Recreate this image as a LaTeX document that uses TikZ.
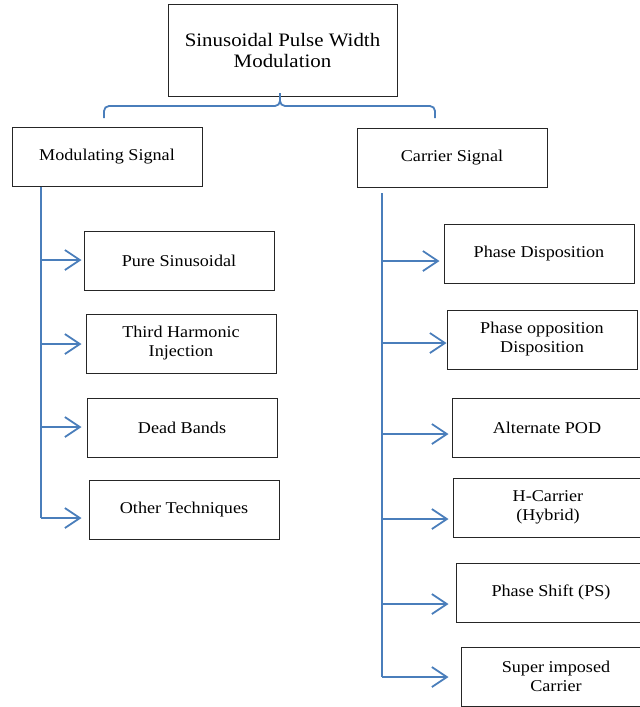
\documentclass[tikz,border=0pt]{standalone}
\usepackage{fontspec}
\setmainfont{Liberation Serif}[FakeStretch=1.1]
\usepackage{xcolor}
\usetikzlibrary{arrows.meta,calc,positioning}
\definecolor{lineblue}{HTML}{4A7EBB}
\tikzset{%
	block/.style = {draw=black!85, line width=1pt, rectangle, minimum width=190pt, minimum height=59pt, inner sep=0pt, align=center, font=\fontsize{16.5}{19}\selectfont},
	link/.style  = {draw=lineblue, line width=1.8pt},
	arrow/.style = {link, -{Straight Barb[length=15pt,width=20pt,line width=1.8pt]}},
}
\begin{document}
\begin{tikzpicture}[x=1pt,y=-1pt]
	\useasboundingbox (0,0) rectangle (640,707);
	\clip (0,0) rectangle (640,707);
	
	% top box
	\node[block, minimum width=229pt, minimum height=92pt, font=\fontsize{19}{21}\selectfont] (spwm) at (282.5,50.5) {Sinusoidal Pulse Width\\Modulation};
	
	% two branches
	\node[block] (mod) at (107,156.5) {Modulating Signal};
	\node[block] (car) at (452,158) {Carrier Signal};
	
	% brace
	\coordinate (bl) at (104,118);
	\coordinate (br) at (435,118);
	\coordinate (bt) at (280,93);
	\draw[link, rounded corners=5pt] (bl) -- (104,106) -- (280,106) -- (bt);
	\draw[link, rounded corners=5pt] (bt) -- (280,106) -- (435,106) -- (br);
	
	% modulating signal side
	\node[block] (pure)  at (179,260.5) {Pure Sinusoidal};
	\node[block] (third) at (181,343.5) {Third Harmonic\\Injection};
	\node[block] (dead)  at (182,427.5) {Dead Bands};
	\node[block] (other) at (184,509.5) {Other Techniques};
	
	\coordinate (ms) at (41,186.5);
	\coordinate (me) at (41,518);
	\draw[link] (ms) -- (me);
	\draw[arrow] ($(ms |- pure.west)+(0,-0.5)$) -- ($(pure.west)+(-2,-0.5)$);
	\draw[arrow] ($(ms |- third.west)+(0,0.5)$) -- ($(third.west)+(-4,0.5)$);
	\draw[arrow] ($(ms |- dead.west)+(0,-0.5)$) -- ($(dead.west)+(-5,-0.5)$);
	\draw[arrow] (me) -- ($(other.west |- me)+(-7,0)$);
	
	% carrier signal side
	\node[block] (pd)   at (539,253.5) {Phase Disposition};
	\node[block] (pod)  at (542,339.5) {Phase opposition\\Disposition};
	\node[block] (apod) at (547,427.5) {Alternate POD};
	\node[block] (hc)   at (548,507.5) {H-Carrier\\(Hybrid)};
	\node[block] (ps)   at (551,592.5) {Phase Shift (PS)};
	\node[block] (sic)  at (556,676.5) {Super imposed\\Carrier};
	
	\coordinate (cs) at (382,193);
	\coordinate (ce) at (382,677);
	\draw[link] (cs) -- (ce);
	\draw[arrow] ($(cs |- pd.west)+(0,7.5)$) -- ($(pd.west)+(-4,7.5)$);
	\draw[arrow] ($(cs |- pod.west)+(0,3.5)$) -- ($(pod.west)+(0,3.5)$);
	\draw[arrow] ($(cs |- apod.west)+(0,6.5)$) -- ($(apod.west)+(-3,6.5)$);
	\draw[arrow] ($(cs |- hc.west)+(0,11.5)$) -- ($(hc.west)+(-4,11.5)$);
	\draw[arrow] ($(cs |- ps.west)+(0,11.5)$) -- ($(ps.west)+(-7,11.5)$);
	\draw[arrow] (ce) -- ($(sic.west |- ce)+(-12,0)$);
\end{tikzpicture}
\end{document}
